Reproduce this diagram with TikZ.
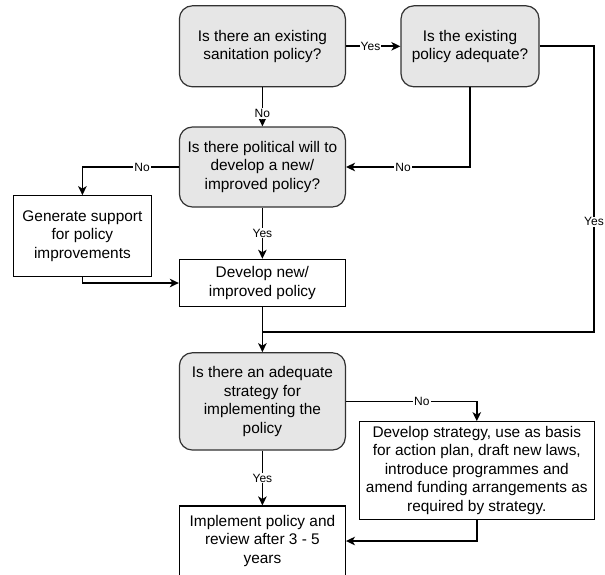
\documentclass[tikz,border=0pt]{standalone}
\usepackage{fontspec}
\setmainfont{Liberation Sans}
\usetikzlibrary{arrows.meta}
\definecolor{boxgray}{RGB}{230,230,230}
\definecolor{edgegray}{RGB}{50,50,50}
\tikzset{
  x=1pt,y=1pt,
  txt/.style={font=\fontsize{15.4}{18.5}\selectfont, align=center, inner sep=0pt},
  decision/.style={txt, draw=edgegray, line width=1.2pt, fill=boxgray, rounded corners=13pt},
  process/.style={txt, draw=black, line width=1.1pt, fill=white},
  conn/.style={line width=1.8pt, black},
  arr/.style={conn, -{Stealth[length=9pt,width=8.5pt,inset=2.5pt]}},
  lbl/.style={font=\fontsize{12}{14}\selectfont, fill=white, inner sep=1pt}
}
\begin{document}
\begin{tikzpicture}
\useasboundingbox (0,0) rectangle (605,-574);
\clip (0,0) rectangle (605,-574);
% nodes
\node[decision, minimum width=166, minimum height=81] (A) at (262.4,-46.3)
  {Is there an existing\\sanitation policy?};
\node[decision, minimum width=138, minimum height=81] (B) at (470,-46.3)
  {Is the existing\\policy adequate?};
\node[decision, minimum width=166, minimum height=80] (C) at (262.4,-167)
  {Is there political will to\\develop a new/\\improved policy?};
\node[process, minimum width=137.7, minimum height=80.6] (Gen) at (82.4,-236)
  {Generate support\\for policy\\improvements};
\node[process, minimum width=166, minimum height=47.4] (D) at (262.4,-283)
  {Develop new/\\improved policy};
\node[decision, minimum width=166, minimum height=97.3] (E) at (262.4,-401.4)
  {Is there an adequate\\strategy for\\implementing the\\policy};
\node[process, minimum width=235, minimum height=97.6] (F) at (476.8,-470.5)
  {Develop strategy, use as basis\\for action plan, draft new laws,\\introduce programmes and\\amend funding arrangements as\\required by strategy.};
\node[process, minimum width=166, minimum height=70] (G) at (262.4,-541)
  {Implement policy and\\review after 3 - 5\\years};
% helper coordinates
\coordinate (r1) at (594,-46.3);
\coordinate (r2) at (594,-331.7);
\coordinate (j) at (262.4,-331.7);
% connectors
\draw[arr] (A.east) -- node[lbl, pos=0.45] {Yes} (B.west);
\draw[arr] (A.south) -- node[lbl, pos=0.67] {No} (C.north);
\draw[arr] (B.south) |- node[lbl, pos=0.77] {No} (C.east);
\draw[conn] (B.east) -- (r1) -- node[lbl, pos=0.615] {Yes} (r2) -- (j);
\draw[arr] (C.west) -| node[lbl, pos=0.19] {No} (Gen.north);
\draw[arr] (C.south) -- node[lbl] {Yes} (D.north);
\draw[arr] (Gen.south) |- (D.west);
\draw[arr] (D.south) -- (E.north);
\draw[arr] (E.east) -| node[lbl, pos=0.29] {No} (F.north);
\draw[arr] (E.south) -- node[lbl] {Yes} (G.north);
\draw[arr] (F.south) |- (G.east);
\end{tikzpicture}
\end{document}
